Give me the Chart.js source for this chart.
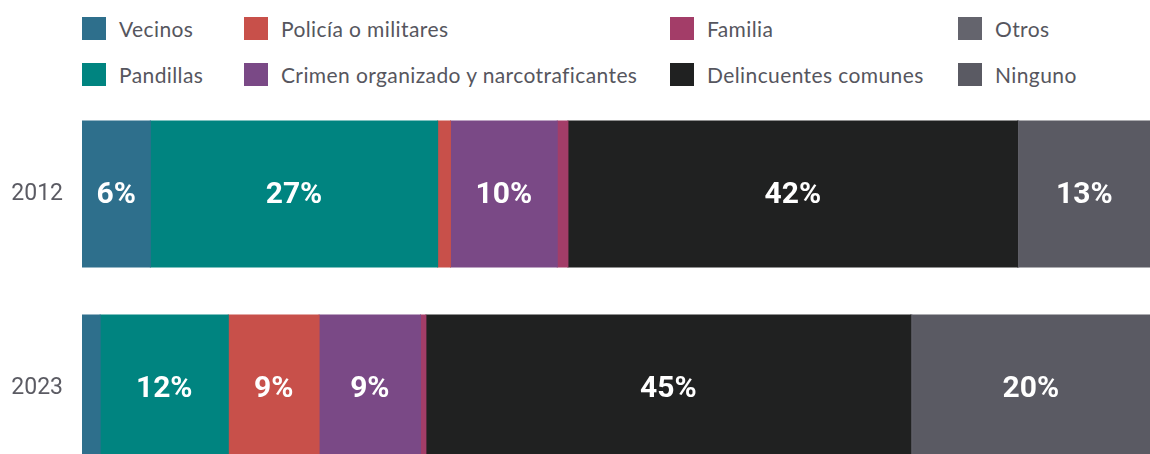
<!DOCTYPE html>
<html lang="es">
<head>
<meta charset="utf-8">
<title>Victimarios</title>
<script src="https://cdn.jsdelivr.net/npm/chart.js@4/dist/chart.umd.min.js"></script>
<style>
  html, body { margin: 0; padding: 0; background: #fff; overflow: hidden; }
  #wrap { position: relative; width: 1150px; }
  #legend { position: relative; height: 97px; font-family: Lato, "Open Sans", sans-serif; font-size: 21px; letter-spacing: 0.4px; color: #56565e; }
  .lg-item { position: absolute; display: flex; align-items: center; white-space: nowrap; height: 23px; }
  .lg-box { width: 24px; height: 23px; margin-right: 13px; flex-shrink: 0; }
  #chart { display: block; }
</style>
</head>
<body>
<div id="wrap">
  <div id="legend"></div>
  <canvas id="chart" width="1150" height="388"></canvas>
</div>
<script>
'use strict';

// categorías (años)
const years = ['2012', '2023'];

// series en el orden de apilado
const seriesNames = ['Vecinos', 'Pandillas', 'Policía o militares', 'Crimen organizado y narcotraficantes',
  'Familia', 'Delincuentes comunes', 'Otros', 'Ninguno'];
const seriesColors = ['#2e6f8c', '#008480', '#c8504a', '#7a4986', '#a33d68', '#202121', '#64646d', '#5a5a63'];

// valores (%) por serie: [2012, 2023]
const vecinos       = [6.4, 1.7];
const pandillas     = [26.9, 12.0];
const policia       = [1.2, 8.5];
const crimen        = [10.0, 9.5];
const familia       = [1.0, 0.5];
const delincuentes  = [42.1, 45.4];
const otros         = [0.1, 0.1];
const ninguno       = [12.3, 22.3];

// etiquetas mostradas dentro de las barras
const lblVecinos      = ['6%', ''];
const lblPandillas    = ['27%', '12%'];
const lblPolicia      = ['', '9%'];
const lblCrimen       = ['10%', '9%'];
const lblFamilia      = ['', ''];
const lblDelincuentes = ['42%', '45%'];
const lblOtros        = ['', ''];
const lblNinguno      = ['13%', '20%'];

const values = [vecinos, pandillas, policia, crimen, familia, delincuentes, otros, ninguno];
const labels = [lblVecinos, lblPandillas, lblPolicia, lblCrimen, lblFamilia, lblDelincuentes, lblOtros, lblNinguno];

// leyenda: columnas x y filas y (índice de serie)
const legendLayout = [
  { i: 0, x: 82,  y: 17 }, { i: 2, x: 244, y: 17 }, { i: 4, x: 670, y: 17 }, { i: 6, x: 958, y: 17 },
  { i: 1, x: 82,  y: 63 }, { i: 3, x: 244, y: 63 }, { i: 5, x: 670, y: 63 }, { i: 7, x: 958, y: 63 },
];

const legendEl = document.getElementById('legend');
legendEl.innerHTML = legendLayout.map(l => `
  <div class="lg-item" style="left:${l.x}px;top:${l.y}px">
    <span class="lg-box" style="background:${seriesColors[l.i]}"></span>${seriesNames[l.i]}
  </div>`).join('');

const barLabels = {
  id: 'barLabels',
  afterDatasetsDraw(chart) {
    const ctx = chart.ctx;
    ctx.save();
    ctx.font = 'bold 30px Roboto, sans-serif';
    ctx.fillStyle = '#ffffff';
    ctx.textAlign = 'center';
    ctx.textBaseline = 'middle';
    chart.data.datasets.forEach((ds, di) => {
      chart.getDatasetMeta(di).data.forEach((bar, j) => {
        const txt = labels[di][j];
        if (!txt) return;
        const p = bar.getCenterPoint();
        ctx.fillText(txt, p.x, p.y + 1);
      });
    });
    ctx.restore();
  },
};

new Chart(document.getElementById('chart'), {
  type: 'bar',
  data: {
    labels: years,
    datasets: seriesNames.map((name, i) => ({
      label: name,
      data: values[i],
      backgroundColor: seriesColors[i],
      borderWidth: 0,
      inflateAmount: 0.5,
      barPercentage: 0.753,
      categoryPercentage: 1,
    })),
  },
  options: {
    indexAxis: 'y',
    responsive: false,
    animation: false,
    layout: { padding: 0 },
    plugins: { legend: { display: false }, tooltip: { enabled: false } },
    scales: {
      x: { stacked: true, min: 0, max: 100, display: false },
      y: {
        stacked: true,
        grid: { display: false, drawTicks: false },
        border: { display: false },
        ticks: { padding: 19, color: '#5b5b63', font: { family: 'Roboto', size: 23 } },
        afterFit(scale) {
          scale.width = 82;
          scale.paddingTop = 0;
          scale.paddingBottom = 0;
        },
      },
    },
  },
  plugins: [barLabels],
});
</script>
</body>
</html>
